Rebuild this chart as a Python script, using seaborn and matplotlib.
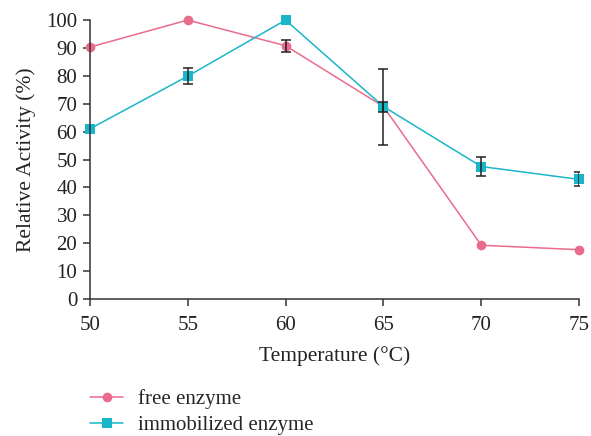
import matplotlib
matplotlib.use("Agg")
import matplotlib.pyplot as plt
import seaborn as sns
import pandas as pd

temperature = [50, 55, 60, 65, 70, 75]
free_activity = [90.3, 100.0, 90.8, 69.0, 19.3, 17.7]
free_err = [0.0, 0.0, 2.1, 1.8, 0.0, 0.0]
immob_activity = [61.0, 79.9, 100.0, 69.0, 47.5, 42.9]
immob_err = [0.0, 2.9, 0.0, 13.6, 3.5, 2.5]

series_names = ["free enzyme", "immobilized enzyme"]
series_colors = ["#ea6b8c", "#19b6c9"]

df = pd.concat([
    pd.DataFrame({"Temperature": temperature, "Activity": free_activity,
                  "err": free_err, "Enzyme": series_names[0]}),
    pd.DataFrame({"Temperature": temperature, "Activity": immob_activity,
                  "err": immob_err, "Enzyme": series_names[1]}),
])

sns.set_style("ticks")
plt.rcParams['font.family'] = ['Liberation Serif', 'DejaVu Serif']

fig = plt.figure(figsize=(5.91, 4.36), dpi=100)
ax = fig.add_axes([0.152, 0.314, 0.828, 0.640])

sns.lineplot(data=df, x="Temperature", y="Activity", hue="Enzyme",
             style="Enzyme", markers=["o", "s"], dashes=False,
             palette=series_colors, markersize=7, markeredgewidth=0,
             linewidth=1.1, ax=ax)
for ln in ax.lines:
    ln.set_clip_on(False)

# 误差棒
for name in series_names:
    sub = df[(df["Enzyme"] == name) & (df["err"] > 0)]
    ax.errorbar(sub["Temperature"], sub["Activity"], yerr=sub["err"],
                fmt="none", ecolor="#222222", elinewidth=1.1,
                capsize=3.5, capthick=1.1, zorder=5)

ax.set_xlim(50, 75)
ax.set_ylim(0, 100)
ax.set_xticks(temperature)
ax.set_yticks(range(0, 101, 10))
ax.tick_params(labelsize=15, length=5, width=1.1, colors="#333333",
               labelcolor="#222222")
ax.tick_params(axis="x", pad=7)
ax.tick_params(axis="y", pad=4)
for s in ["left", "bottom"]:
    ax.spines[s].set_linewidth(1.1)
    ax.spines[s].set_color("#333333")
sns.despine(ax=ax)
ax.set_xlabel("Temperature (°C)", fontsize=15.5, color="#222222", labelpad=8)
ax.set_ylabel("Relative Activity (%)", fontsize=15.5, color="#222222", labelpad=7)

handles, labels = ax.get_legend_handles_labels()
ax.legend(handles, labels, loc="upper left", bbox_to_anchor=(0.139, 0.126),
          bbox_transform=fig.transFigure, frameon=False, fontsize=15,
          handlelength=1.55, handletextpad=0.75, labelspacing=0.3,
          borderaxespad=0)

fig.savefig("out.png", dpi=100)
